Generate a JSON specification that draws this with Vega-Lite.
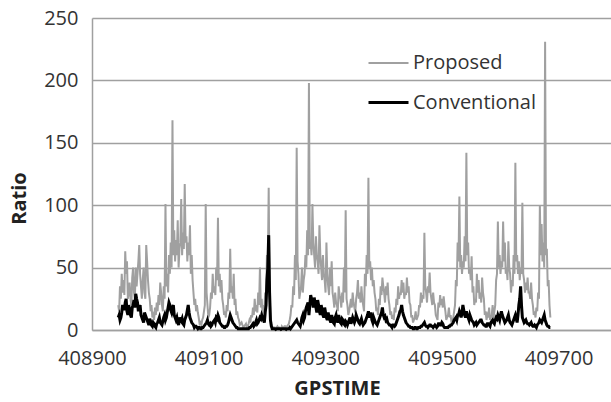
{
  "$schema": "https://vega.github.io/schema/vega-lite/v6.json",
  "width": 519,
  "height": 312,
  "autosize": {"type": "none"},
  "padding": {"left": 92, "top": 18, "right": 0, "bottom": 72},
  "background": "white",
  "config": {
    "view": {"stroke": null},
    "font": "Open Sans",
    "axis": {"labelFont": "Open Sans", "titleFont": "Open Sans", "labelFontSize": 20, "labelColor": "#333333", "titleFontSize": 20, "titleFontWeight": "bold", "titleColor": "#222222", "ticks": false, "tickSize": 0, "domainColor": "#a0a0a0", "domainWidth": 1.5, "gridColor": "#a0a0a0", "gridWidth": 1.5, "gridOpacity": 1}
  },
  "data": {"values": [
    {"t":408945,"Proposed":20,"Conventional":10},{"t":408948,"Proposed":35,"Conventional":8},{"t":408951,"Proposed":45,"Conventional":14},{"t":408954,"Proposed":40,"Conventional":18},{"t":408957,"Proposed":63,"Conventional":22},{"t":408960,"Proposed":55,"Conventional":15},{"t":408963,"Proposed":30,"Conventional":20},{"t":408966,"Proposed":25,"Conventional":12},{"t":408969,"Proposed":42,"Conventional":18},{"t":408972,"Proposed":30,"Conventional":24},
    {"t":408975,"Proposed":50,"Conventional":29},{"t":408978,"Proposed":45,"Conventional":22},{"t":408981,"Proposed":68,"Conventional":18},{"t":408984,"Proposed":35,"Conventional":12},{"t":408987,"Proposed":40,"Conventional":8},{"t":408990,"Proposed":30,"Conventional":14},{"t":408993,"Proposed":68,"Conventional":10},{"t":408996,"Proposed":40,"Conventional":6},{"t":408999,"Proposed":25,"Conventional":9},{"t":409002,"Proposed":20,"Conventional":4},
    {"t":409005,"Proposed":12,"Conventional":6},{"t":409008,"Proposed":18,"Conventional":3},{"t":409011,"Proposed":22,"Conventional":5},{"t":409014,"Proposed":28,"Conventional":8},{"t":409017,"Proposed":38,"Conventional":6},{"t":409020,"Proposed":20,"Conventional":4},{"t":409023,"Proposed":35,"Conventional":10},{"t":409026,"Proposed":101,"Conventional":8},{"t":409029,"Proposed":45,"Conventional":14},{"t":409032,"Proposed":60,"Conventional":22},
    {"t":409035,"Proposed":70,"Conventional":16},{"t":409038,"Proposed":168,"Conventional":18},{"t":409041,"Proposed":80,"Conventional":12},{"t":409044,"Proposed":72,"Conventional":8},{"t":409047,"Proposed":88,"Conventional":6},{"t":409050,"Proposed":65,"Conventional":10},{"t":409053,"Proposed":105,"Conventional":7},{"t":409056,"Proposed":78,"Conventional":5},{"t":409059,"Proposed":117,"Conventional":8},{"t":409062,"Proposed":75,"Conventional":12},
    {"t":409065,"Proposed":70,"Conventional":20},{"t":409068,"Proposed":84,"Conventional":10},{"t":409071,"Proposed":60,"Conventional":6},{"t":409074,"Proposed":30,"Conventional":4},{"t":409077,"Proposed":25,"Conventional":3},{"t":409080,"Proposed":20,"Conventional":2},{"t":409083,"Proposed":10,"Conventional":2},{"t":409086,"Proposed":6,"Conventional":1},{"t":409089,"Proposed":8,"Conventional":2},{"t":409092,"Proposed":15,"Conventional":3},
    {"t":409095,"Proposed":101,"Conventional":5},{"t":409098,"Proposed":20,"Conventional":8},{"t":409101,"Proposed":12,"Conventional":4},{"t":409104,"Proposed":30,"Conventional":3},{"t":409107,"Proposed":45,"Conventional":6},{"t":409110,"Proposed":35,"Conventional":8},{"t":409113,"Proposed":50,"Conventional":10},{"t":409116,"Proposed":90,"Conventional":12},{"t":409119,"Proposed":45,"Conventional":6},{"t":409122,"Proposed":40,"Conventional":4},
    {"t":409125,"Proposed":20,"Conventional":3},{"t":409128,"Proposed":15,"Conventional":2},{"t":409131,"Proposed":20,"Conventional":3},{"t":409134,"Proposed":30,"Conventional":6},{"t":409137,"Proposed":65,"Conventional":12},{"t":409140,"Proposed":35,"Conventional":8},{"t":409143,"Proposed":45,"Conventional":5},{"t":409146,"Proposed":25,"Conventional":3},{"t":409149,"Proposed":15,"Conventional":2},{"t":409152,"Proposed":8,"Conventional":1},
    {"t":409155,"Proposed":5,"Conventional":1},{"t":409158,"Proposed":4,"Conventional":1},{"t":409161,"Proposed":3,"Conventional":1},{"t":409164,"Proposed":5,"Conventional":1},{"t":409167,"Proposed":3,"Conventional":1},{"t":409170,"Proposed":8,"Conventional":2},{"t":409173,"Proposed":12,"Conventional":3},{"t":409176,"Proposed":18,"Conventional":5},{"t":409179,"Proposed":25,"Conventional":4},{"t":409182,"Proposed":20,"Conventional":8},
    {"t":409185,"Proposed":30,"Conventional":6},{"t":409188,"Proposed":50,"Conventional":10},{"t":409191,"Proposed":25,"Conventional":12},{"t":409194,"Proposed":20,"Conventional":8},{"t":409197,"Proposed":30,"Conventional":14},{"t":409200,"Proposed":60,"Conventional":40},{"t":409203,"Proposed":114,"Conventional":76},{"t":409206,"Proposed":10,"Conventional":8},{"t":409209,"Proposed":3,"Conventional":1},{"t":409212,"Proposed":2,"Conventional":1},
    {"t":409215,"Proposed":1,"Conventional":0.5},{"t":409218,"Proposed":3,"Conventional":1},{"t":409221,"Proposed":2,"Conventional":1},{"t":409224,"Proposed":1,"Conventional":0.5},{"t":409227,"Proposed":2,"Conventional":1},{"t":409230,"Proposed":3,"Conventional":1},{"t":409233,"Proposed":2,"Conventional":0.5},{"t":409236,"Proposed":4,"Conventional":1},{"t":409239,"Proposed":8,"Conventional":2},{"t":409242,"Proposed":20,"Conventional":2},
    {"t":409245,"Proposed":35,"Conventional":4},{"t":409248,"Proposed":60,"Conventional":6},{"t":409251,"Proposed":146,"Conventional":8},{"t":409254,"Proposed":45,"Conventional":5},{"t":409257,"Proposed":30,"Conventional":3},{"t":409260,"Proposed":50,"Conventional":10},{"t":409263,"Proposed":40,"Conventional":8},{"t":409266,"Proposed":60,"Conventional":15},{"t":409269,"Proposed":80,"Conventional":20},{"t":409272,"Proposed":198,"Conventional":12},
    {"t":409275,"Proposed":70,"Conventional":28},{"t":409278,"Proposed":101,"Conventional":22},{"t":409281,"Proposed":60,"Conventional":26},{"t":409284,"Proposed":75,"Conventional":18},{"t":409287,"Proposed":55,"Conventional":24},{"t":409290,"Proposed":84,"Conventional":15},{"t":409293,"Proposed":50,"Conventional":20},{"t":409296,"Proposed":60,"Conventional":12},{"t":409299,"Proposed":40,"Conventional":18},{"t":409302,"Proposed":70,"Conventional":10},
    {"t":409305,"Proposed":35,"Conventional":14},{"t":409308,"Proposed":50,"Conventional":8},{"t":409311,"Proposed":55,"Conventional":12},{"t":409314,"Proposed":25,"Conventional":6},{"t":409317,"Proposed":30,"Conventional":10},{"t":409320,"Proposed":20,"Conventional":8},{"t":409323,"Proposed":35,"Conventional":12},{"t":409326,"Proposed":25,"Conventional":6},{"t":409329,"Proposed":30,"Conventional":9},{"t":409332,"Proposed":50,"Conventional":5},
    {"t":409335,"Proposed":96,"Conventional":7},{"t":409338,"Proposed":20,"Conventional":4},{"t":409341,"Proposed":15,"Conventional":8},{"t":409344,"Proposed":25,"Conventional":5},{"t":409347,"Proposed":30,"Conventional":10},{"t":409350,"Proposed":18,"Conventional":6},{"t":409353,"Proposed":25,"Conventional":12},{"t":409356,"Proposed":40,"Conventional":8},{"t":409359,"Proposed":30,"Conventional":5},{"t":409362,"Proposed":35,"Conventional":9},
    {"t":409365,"Proposed":20,"Conventional":4},{"t":409368,"Proposed":45,"Conventional":6},{"t":409371,"Proposed":60,"Conventional":10},{"t":409374,"Proposed":122,"Conventional":15},{"t":409377,"Proposed":55,"Conventional":12},{"t":409380,"Proposed":50,"Conventional":8},{"t":409383,"Proposed":40,"Conventional":10},{"t":409386,"Proposed":25,"Conventional":6},{"t":409389,"Proposed":18,"Conventional":4},{"t":409392,"Proposed":25,"Conventional":8},
    {"t":409395,"Proposed":35,"Conventional":12},{"t":409398,"Proposed":42,"Conventional":18},{"t":409401,"Proposed":30,"Conventional":10},{"t":409404,"Proposed":35,"Conventional":8},{"t":409407,"Proposed":38,"Conventional":6},{"t":409410,"Proposed":20,"Conventional":4},{"t":409413,"Proposed":15,"Conventional":3},{"t":409416,"Proposed":12,"Conventional":4},{"t":409419,"Proposed":18,"Conventional":3},{"t":409422,"Proposed":25,"Conventional":6},
    {"t":409425,"Proposed":35,"Conventional":10},{"t":409428,"Proposed":30,"Conventional":15},{"t":409431,"Proposed":40,"Conventional":20},{"t":409434,"Proposed":38,"Conventional":12},{"t":409437,"Proposed":30,"Conventional":8},{"t":409440,"Proposed":42,"Conventional":5},{"t":409443,"Proposed":35,"Conventional":3},{"t":409446,"Proposed":20,"Conventional":2},{"t":409449,"Proposed":12,"Conventional":2},{"t":409452,"Proposed":8,"Conventional":1},
    {"t":409455,"Proposed":15,"Conventional":2},{"t":409458,"Proposed":10,"Conventional":1},{"t":409461,"Proposed":20,"Conventional":2},{"t":409464,"Proposed":30,"Conventional":3},{"t":409467,"Proposed":28,"Conventional":4},{"t":409470,"Proposed":78,"Conventional":6},{"t":409473,"Proposed":30,"Conventional":3},{"t":409476,"Proposed":35,"Conventional":2},{"t":409479,"Proposed":46,"Conventional":4},{"t":409482,"Proposed":25,"Conventional":3},
    {"t":409485,"Proposed":30,"Conventional":2},{"t":409488,"Proposed":20,"Conventional":4},{"t":409491,"Proposed":10,"Conventional":2},{"t":409494,"Proposed":22,"Conventional":5},{"t":409497,"Proposed":28,"Conventional":4},{"t":409500,"Proposed":25,"Conventional":6},{"t":409503,"Proposed":27,"Conventional":3},{"t":409506,"Proposed":15,"Conventional":2},{"t":409509,"Proposed":10,"Conventional":2},{"t":409512,"Proposed":18,"Conventional":3},
    {"t":409515,"Proposed":12,"Conventional":4},{"t":409518,"Proposed":8,"Conventional":5},{"t":409521,"Proposed":15,"Conventional":8},{"t":409524,"Proposed":40,"Conventional":10},{"t":409527,"Proposed":70,"Conventional":12},{"t":409530,"Proposed":107,"Conventional":15},{"t":409533,"Proposed":60,"Conventional":10},{"t":409536,"Proposed":55,"Conventional":20},{"t":409539,"Proposed":75,"Conventional":12},{"t":409542,"Proposed":142,"Conventional":15},
    {"t":409545,"Proposed":70,"Conventional":10},{"t":409548,"Proposed":50,"Conventional":12},{"t":409551,"Proposed":59,"Conventional":8},{"t":409554,"Proposed":35,"Conventional":6},{"t":409557,"Proposed":25,"Conventional":5},{"t":409560,"Proposed":45,"Conventional":4},{"t":409563,"Proposed":40,"Conventional":6},{"t":409566,"Proposed":30,"Conventional":8},{"t":409569,"Proposed":42,"Conventional":6},{"t":409572,"Proposed":25,"Conventional":4},
    {"t":409575,"Proposed":15,"Conventional":3},{"t":409578,"Proposed":12,"Conventional":5},{"t":409581,"Proposed":18,"Conventional":4},{"t":409584,"Proposed":10,"Conventional":6},{"t":409587,"Proposed":20,"Conventional":8},{"t":409590,"Proposed":15,"Conventional":5},{"t":409593,"Proposed":40,"Conventional":10},{"t":409596,"Proposed":87,"Conventional":12},{"t":409599,"Proposed":60,"Conventional":8},{"t":409602,"Proposed":55,"Conventional":15},
    {"t":409605,"Proposed":87,"Conventional":10},{"t":409608,"Proposed":70,"Conventional":6},{"t":409611,"Proposed":50,"Conventional":8},{"t":409614,"Proposed":71,"Conventional":12},{"t":409617,"Proposed":45,"Conventional":6},{"t":409620,"Proposed":40,"Conventional":4},{"t":409623,"Proposed":60,"Conventional":8},{"t":409626,"Proposed":134,"Conventional":12},{"t":409629,"Proposed":60,"Conventional":6},{"t":409632,"Proposed":55,"Conventional":20},
    {"t":409635,"Proposed":50,"Conventional":35},{"t":409638,"Proposed":102,"Conventional":10},{"t":409641,"Proposed":40,"Conventional":6},{"t":409644,"Proposed":38,"Conventional":8},{"t":409647,"Proposed":42,"Conventional":5},{"t":409650,"Proposed":30,"Conventional":4},{"t":409653,"Proposed":38,"Conventional":6},{"t":409656,"Proposed":20,"Conventional":3},{"t":409659,"Proposed":15,"Conventional":4},{"t":409662,"Proposed":18,"Conventional":2},
    {"t":409665,"Proposed":30,"Conventional":5},{"t":409668,"Proposed":100,"Conventional":8},{"t":409671,"Proposed":85,"Conventional":6},{"t":409674,"Proposed":70,"Conventional":10},{"t":409677,"Proposed":231,"Conventional":8},{"t":409680,"Proposed":65,"Conventional":4},{"t":409683,"Proposed":40,"Conventional":3},{"t":409686,"Proposed":10,"Conventional":2},
    {"t":408946.5,"Proposed":15,"Conventional":12},{"t":408949.5,"Proposed":25,"Conventional":10},{"t":408952.5,"Proposed":30,"Conventional":20},{"t":408955.5,"Proposed":28,"Conventional":16},{"t":408958.5,"Proposed":45,"Conventional":25},{"t":408961.5,"Proposed":25,"Conventional":12},{"t":408964.5,"Proposed":38,"Conventional":16},{"t":408967.5,"Proposed":20,"Conventional":10},{"t":408970.5,"Proposed":50,"Conventional":20},{"t":408973.5,"Proposed":25,"Conventional":18},
    {"t":408976.5,"Proposed":35,"Conventional":25},{"t":408979.5,"Proposed":55,"Conventional":15},{"t":408982.5,"Proposed":45,"Conventional":20},{"t":408985.5,"Proposed":25,"Conventional":10},{"t":408988.5,"Proposed":50,"Conventional":6},{"t":408991.5,"Proposed":25,"Conventional":12},{"t":408994.5,"Proposed":55,"Conventional":8},{"t":408997.5,"Proposed":30,"Conventional":4},{"t":409000.5,"Proposed":15,"Conventional":7},{"t":409003.5,"Proposed":10,"Conventional":3},
    {"t":409006.5,"Proposed":8,"Conventional":5},{"t":409009.5,"Proposed":12,"Conventional":2},{"t":409012.5,"Proposed":15,"Conventional":6},{"t":409015.5,"Proposed":20,"Conventional":10},{"t":409018.5,"Proposed":30,"Conventional":5},{"t":409021.5,"Proposed":15,"Conventional":7},{"t":409024.5,"Proposed":25,"Conventional":12},{"t":409027.5,"Proposed":35,"Conventional":10},{"t":409030.5,"Proposed":30,"Conventional":18},{"t":409033.5,"Proposed":45,"Conventional":20},
    {"t":409036.5,"Proposed":50,"Conventional":14},{"t":409039.5,"Proposed":60,"Conventional":20},{"t":409042.5,"Proposed":55,"Conventional":10},{"t":409045.5,"Proposed":60,"Conventional":10},{"t":409048.5,"Proposed":50,"Conventional":4},{"t":409051.5,"Proposed":70,"Conventional":8},{"t":409054.5,"Proposed":60,"Conventional":9},{"t":409057.5,"Proposed":65,"Conventional":4},{"t":409060.5,"Proposed":70,"Conventional":10},{"t":409063.5,"Proposed":55,"Conventional":16},
    {"t":409066.5,"Proposed":60,"Conventional":14},{"t":409069.5,"Proposed":45,"Conventional":8},{"t":409072.5,"Proposed":40,"Conventional":5},{"t":409075.5,"Proposed":20,"Conventional":2},{"t":409078.5,"Proposed":15,"Conventional":3},{"t":409081.5,"Proposed":14,"Conventional":1},{"t":409084.5,"Proposed":5,"Conventional":2},{"t":409087.5,"Proposed":4,"Conventional":1},{"t":409090.5,"Proposed":10,"Conventional":2},{"t":409093.5,"Proposed":20,"Conventional":4},
    {"t":409096.5,"Proposed":30,"Conventional":6},{"t":409099.5,"Proposed":10,"Conventional":5},{"t":409102.5,"Proposed":18,"Conventional":5},{"t":409105.5,"Proposed":25,"Conventional":4},{"t":409108.5,"Proposed":30,"Conventional":7},{"t":409111.5,"Proposed":28,"Conventional":6},{"t":409114.5,"Proposed":40,"Conventional":9},{"t":409117.5,"Proposed":35,"Conventional":10},{"t":409120.5,"Proposed":30,"Conventional":5},{"t":409123.5,"Proposed":25,"Conventional":3},
    {"t":409126.5,"Proposed":12,"Conventional":2},{"t":409129.5,"Proposed":10,"Conventional":3},{"t":409132.5,"Proposed":15,"Conventional":4},{"t":409135.5,"Proposed":25,"Conventional":9},{"t":409138.5,"Proposed":30,"Conventional":10},{"t":409141.5,"Proposed":25,"Conventional":6},{"t":409144.5,"Proposed":20,"Conventional":4},{"t":409147.5,"Proposed":12,"Conventional":2},{"t":409150.5,"Proposed":10,"Conventional":1},{"t":409153.5,"Proposed":4,"Conventional":1},
    {"t":409156.5,"Proposed":6,"Conventional":1},{"t":409159.5,"Proposed":2,"Conventional":1},{"t":409162.5,"Proposed":4,"Conventional":1},{"t":409165.5,"Proposed":2,"Conventional":1},{"t":409168.5,"Proposed":5,"Conventional":1},{"t":409171.5,"Proposed":6,"Conventional":2},{"t":409174.5,"Proposed":10,"Conventional":4},{"t":409177.5,"Proposed":12,"Conventional":3},{"t":409180.5,"Proposed":15,"Conventional":6},{"t":409183.5,"Proposed":14,"Conventional":5},
    {"t":409186.5,"Proposed":20,"Conventional":8},{"t":409189.5,"Proposed":18,"Conventional":9},{"t":409192.5,"Proposed":12,"Conventional":10},{"t":409195.5,"Proposed":15,"Conventional":6},{"t":409198.5,"Proposed":25,"Conventional":20},{"t":409201.5,"Proposed":50,"Conventional":50},{"t":409204.5,"Proposed":30,"Conventional":30},{"t":409207.5,"Proposed":5,"Conventional":3},{"t":409210.5,"Proposed":2,"Conventional":1},{"t":409213.5,"Proposed":2,"Conventional":1},
    {"t":409216.5,"Proposed":2,"Conventional":1},{"t":409219.5,"Proposed":2,"Conventional":1},{"t":409222.5,"Proposed":1,"Conventional":1},{"t":409225.5,"Proposed":3,"Conventional":1},{"t":409228.5,"Proposed":2,"Conventional":1},{"t":409231.5,"Proposed":3,"Conventional":1},{"t":409234.5,"Proposed":3,"Conventional":1},{"t":409237.5,"Proposed":5,"Conventional":1},{"t":409240.5,"Proposed":12,"Conventional":1},{"t":409243.5,"Proposed":18,"Conventional":3},
    {"t":409246.5,"Proposed":28,"Conventional":5},{"t":409249.5,"Proposed":40,"Conventional":7},{"t":409252.5,"Proposed":55,"Conventional":6},{"t":409255.5,"Proposed":25,"Conventional":4},{"t":409258.5,"Proposed":35,"Conventional":6},{"t":409261.5,"Proposed":30,"Conventional":12},{"t":409264.5,"Proposed":45,"Conventional":10},{"t":409267.5,"Proposed":50,"Conventional":18},{"t":409270.5,"Proposed":60,"Conventional":22},{"t":409273.5,"Proposed":65,"Conventional":20},
    {"t":409276.5,"Proposed":60,"Conventional":25},{"t":409279.5,"Proposed":70,"Conventional":18},{"t":409282.5,"Proposed":50,"Conventional":22},{"t":409285.5,"Proposed":60,"Conventional":14},{"t":409288.5,"Proposed":45,"Conventional":20},{"t":409291.5,"Proposed":60,"Conventional":12},{"t":409294.5,"Proposed":40,"Conventional":16},{"t":409297.5,"Proposed":45,"Conventional":10},{"t":409300.5,"Proposed":30,"Conventional":14},{"t":409303.5,"Proposed":45,"Conventional":8},
    {"t":409306.5,"Proposed":28,"Conventional":10},{"t":409309.5,"Proposed":35,"Conventional":6},{"t":409312.5,"Proposed":30,"Conventional":9},{"t":409315.5,"Proposed":18,"Conventional":5},{"t":409318.5,"Proposed":22,"Conventional":12},{"t":409321.5,"Proposed":15,"Conventional":6},{"t":409324.5,"Proposed":28,"Conventional":9},{"t":409327.5,"Proposed":18,"Conventional":5},{"t":409330.5,"Proposed":22,"Conventional":8},{"t":409333.5,"Proposed":30,"Conventional":4},
    {"t":409336.5,"Proposed":25,"Conventional":6},{"t":409339.5,"Proposed":12,"Conventional":6},{"t":409342.5,"Proposed":20,"Conventional":10},{"t":409345.5,"Proposed":18,"Conventional":7},{"t":409348.5,"Proposed":22,"Conventional":8},{"t":409351.5,"Proposed":14,"Conventional":8},{"t":409354.5,"Proposed":30,"Conventional":10},{"t":409357.5,"Proposed":25,"Conventional":6},{"t":409360.5,"Proposed":22,"Conventional":7},{"t":409363.5,"Proposed":25,"Conventional":6},
    {"t":409366.5,"Proposed":15,"Conventional":5},{"t":409369.5,"Proposed":35,"Conventional":8},{"t":409372.5,"Proposed":45,"Conventional":12},{"t":409375.5,"Proposed":50,"Conventional":10},{"t":409378.5,"Proposed":40,"Conventional":14},{"t":409381.5,"Proposed":35,"Conventional":6},{"t":409384.5,"Proposed":30,"Conventional":8},{"t":409387.5,"Proposed":15,"Conventional":5},{"t":409390.5,"Proposed":12,"Conventional":6},{"t":409393.5,"Proposed":20,"Conventional":10},
    {"t":409396.5,"Proposed":28,"Conventional":14},{"t":409399.5,"Proposed":35,"Conventional":12},{"t":409402.5,"Proposed":22,"Conventional":11},{"t":409405.5,"Proposed":28,"Conventional":9},{"t":409408.5,"Proposed":25,"Conventional":5},{"t":409411.5,"Proposed":12,"Conventional":4},{"t":409414.5,"Proposed":9,"Conventional":2},{"t":409417.5,"Proposed":8,"Conventional":4},{"t":409420.5,"Proposed":14,"Conventional":4},{"t":409423.5,"Proposed":20,"Conventional":8},
    {"t":409426.5,"Proposed":25,"Conventional":12},{"t":409429.5,"Proposed":28,"Conventional":16},{"t":409432.5,"Proposed":30,"Conventional":15},{"t":409435.5,"Proposed":25,"Conventional":10},{"t":409438.5,"Proposed":28,"Conventional":6},{"t":409441.5,"Proposed":30,"Conventional":4},{"t":409444.5,"Proposed":22,"Conventional":3},{"t":409447.5,"Proposed":10,"Conventional":2},{"t":409450.5,"Proposed":6,"Conventional":1},{"t":409453.5,"Proposed":10,"Conventional":2},
    {"t":409456.5,"Proposed":8,"Conventional":1},{"t":409459.5,"Proposed":12,"Conventional":2},{"t":409462.5,"Proposed":18,"Conventional":2},{"t":409465.5,"Proposed":22,"Conventional":3},{"t":409468.5,"Proposed":25,"Conventional":5},{"t":409471.5,"Proposed":35,"Conventional":4},{"t":409474.5,"Proposed":22,"Conventional":3},{"t":409477.5,"Proposed":30,"Conventional":3},{"t":409480.5,"Proposed":30,"Conventional":4},{"t":409483.5,"Proposed":20,"Conventional":3},
    {"t":409486.5,"Proposed":22,"Conventional":3},{"t":409489.5,"Proposed":12,"Conventional":3},{"t":409492.5,"Proposed":8,"Conventional":3},{"t":409495.5,"Proposed":18,"Conventional":5},{"t":409498.5,"Proposed":20,"Conventional":4},{"t":409501.5,"Proposed":18,"Conventional":5},{"t":409504.5,"Proposed":20,"Conventional":2},{"t":409507.5,"Proposed":8,"Conventional":2},{"t":409510.5,"Proposed":12,"Conventional":2},{"t":409513.5,"Proposed":10,"Conventional":3},
    {"t":409516.5,"Proposed":6,"Conventional":4},{"t":409519.5,"Proposed":10,"Conventional":6},{"t":409522.5,"Proposed":20,"Conventional":9},{"t":409525.5,"Proposed":35,"Conventional":8},{"t":409528.5,"Proposed":55,"Conventional":12},{"t":409531.5,"Proposed":50,"Conventional":13},{"t":409534.5,"Proposed":45,"Conventional":14},{"t":409537.5,"Proposed":50,"Conventional":16},{"t":409540.5,"Proposed":55,"Conventional":10},{"t":409543.5,"Proposed":60,"Conventional":12},
    {"t":409546.5,"Proposed":45,"Conventional":8},{"t":409549.5,"Proposed":40,"Conventional":10},{"t":409552.5,"Proposed":30,"Conventional":7},{"t":409555.5,"Proposed":20,"Conventional":4},{"t":409558.5,"Proposed":22,"Conventional":6},{"t":409561.5,"Proposed":30,"Conventional":5},{"t":409564.5,"Proposed":25,"Conventional":7},{"t":409567.5,"Proposed":22,"Conventional":8},{"t":409570.5,"Proposed":30,"Conventional":5},{"t":409573.5,"Proposed":12,"Conventional":4},
    {"t":409576.5,"Proposed":8,"Conventional":3},{"t":409579.5,"Proposed":10,"Conventional":5},{"t":409582.5,"Proposed":8,"Conventional":3},{"t":409585.5,"Proposed":12,"Conventional":7},{"t":409588.5,"Proposed":10,"Conventional":6},{"t":409591.5,"Proposed":20,"Conventional":8},{"t":409594.5,"Proposed":45,"Conventional":9},{"t":409597.5,"Proposed":50,"Conventional":10},{"t":409600.5,"Proposed":45,"Conventional":12},{"t":409603.5,"Proposed":50,"Conventional":12},
    {"t":409606.5,"Proposed":55,"Conventional":8},{"t":409609.5,"Proposed":45,"Conventional":7},{"t":409612.5,"Proposed":40,"Conventional":10},{"t":409615.5,"Proposed":50,"Conventional":8},{"t":409618.5,"Proposed":30,"Conventional":5},{"t":409621.5,"Proposed":35,"Conventional":6},{"t":409624.5,"Proposed":45,"Conventional":10},{"t":409627.5,"Proposed":55,"Conventional":9},{"t":409630.5,"Proposed":45,"Conventional":12},{"t":409633.5,"Proposed":40,"Conventional":25},
    {"t":409636.5,"Proposed":45,"Conventional":20},{"t":409639.5,"Proposed":45,"Conventional":8},{"t":409642.5,"Proposed":30,"Conventional":7},{"t":409645.5,"Proposed":32,"Conventional":6},{"t":409648.5,"Proposed":30,"Conventional":5},{"t":409651.5,"Proposed":25,"Conventional":5},{"t":409654.5,"Proposed":25,"Conventional":4},{"t":409657.5,"Proposed":12,"Conventional":3},{"t":409660.5,"Proposed":10,"Conventional":3},{"t":409663.5,"Proposed":15,"Conventional":4},
    {"t":409666.5,"Proposed":25,"Conventional":6},{"t":409669.5,"Proposed":60,"Conventional":7},{"t":409672.5,"Proposed":55,"Conventional":8},{"t":409675.5,"Proposed":50,"Conventional":12},{"t":409678.5,"Proposed":60,"Conventional":6},{"t":409681.5,"Proposed":35,"Conventional":3},{"t":409684.5,"Proposed":20,"Conventional":2}
  ]},
  "transform": [{"fold": ["Proposed", "Conventional"], "as": ["series", "ratio"]}],
  "encoding": {
    "x": {"field": "t", "type": "quantitative", "title": "GPSTIME",
      "scale": {"domain": [408900, 409790], "nice": false, "zero": false},
      "axis": {"values": [408900, 409100, 409300, 409500, 409700], "grid": false, "labelPadding": 18, "titlePadding": 10, "titleX": 245, "format": "d", "labelFlush": false}},
    "y": {"field": "ratio", "type": "quantitative", "title": "Ratio",
      "scale": {"domain": [0, 250], "nice": false},
      "axis": {"values": [0, 50, 100, 150, 200, 250], "grid": true, "labelPadding": 14, "titlePadding": 14, "titleY": 180}},
    "color": {"field": "series", "type": "nominal",
      "scale": {"domain": ["Proposed", "Conventional"], "range": ["#a0a0a0", "#000000"]},
      "legend": {"orient": "none", "legendX": 275, "legendY": 24, "title": null, "symbolType": "stroke", "symbolSize": 1600, "labelFontSize": 20, "labelFont": "Open Sans", "labelColor": "#333333", "labelOffset": 3, "rowPadding": 8, "padding": 0}},
    "strokeWidth": {"field": "series", "type": "nominal",
      "scale": {"domain": ["Proposed", "Conventional"], "range": [2, 3]}}
  },
  "layer": [
    {"transform": [{"filter": "datum.series === 'Proposed'"}], "mark": {"type": "line", "interpolate": "linear"}},
    {"transform": [{"filter": "datum.series === 'Conventional'"}], "mark": {"type": "line", "interpolate": "linear"}}
  ]
}
